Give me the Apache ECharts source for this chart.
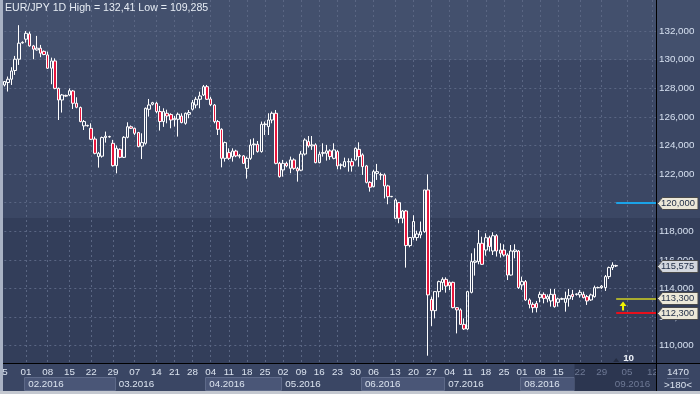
<!DOCTYPE html>
<html>
<head>
<meta charset="utf-8">
<script src="https://cdn.jsdelivr.net/npm/echarts@6.0.0/dist/echarts.min.js"></script>
<style>
html,body{margin:0;padding:0;overflow:hidden;background:#3b4764;}
#chart{width:700px;height:394px;}
</style>
</head>
<body>
<div id="chart"></div>
<script>
// ---- data (EUR/JPY daily bars) ----
const opens = [128.23,128.40,128.63,129.24,130.03,131.17,131.43,131.80,130.96,130.68,
130.80,130.58,130.33,129.40,129.91,127.99,127.18,127.50,127.53,127.81,
126.95,126.65,125.37,125.40,125.20,124.45,123.22,123.25,124.55,124.60,
124.15,122.59,123.73,123.17,124.57,125.31,125.20,124.90,123.95,124.15,
126.53,126.88,126.95,126.37,125.67,126.25,126.16,125.80,125.83,126.06,
125.55,126.18,126.53,126.83,127.23,127.53,128.11,127.25,126.83,125.67,
125.13,123.10,123.50,123.22,123.61,123.25,123.27,122.40,123.10,124.05,
124.08,123.57,125.46,125.32,125.78,126.25,122.75,122.29,122.75,122.40,
122.99,122.38,122.27,123.40,124.27,123.97,124.04,122.80,123.45,123.45,
123.62,123.10,123.57,122.62,122.52,122.85,122.87,122.99,123.73,123.34,
122.57,121.42,121.12,122.05,121.96,121.94,121.17,120.42,118.91,120.00,
118.91,119.42,117.00,117.56,117.56,117.74,117.97,120.89,113.24,112.45,
113.78,114.41,114.64,114.43,114.43,112.66,112.50,111.49,111.17,113.73,
115.83,115.88,117.16,116.69,117.55,116.62,117.69,116.69,116.69,116.34,
114.94,116.58,116.62,114.25,114.48,113.20,112.89,112.96,113.36,113.59,
113.27,113.13,113.59,113.03,113.25,113.03,113.27,113.59,113.58,113.55,
113.59,113.43,113.20,113.43,114.05,114.06,114.06,114.83,115.46,115.60];
const highs = [128.51,128.82,129.47,130.26,132.41,131.28,132.00,131.96,131.03,131.66,
131.03,130.64,130.56,130.14,130.09,128.05,127.60,127.55,127.99,127.88,
127.37,126.72,125.78,125.45,125.55,124.62,123.55,124.62,124.97,124.68,
124.39,124.00,123.80,124.65,125.62,125.40,125.25,124.95,124.85,126.65,
127.25,127.05,127.05,126.76,126.60,126.50,126.25,126.06,126.30,126.25,
126.30,126.48,127.18,127.40,127.76,128.23,128.23,127.40,126.90,125.78,
125.20,124.27,123.80,123.80,123.70,123.40,123.33,123.22,124.43,124.50,
124.31,125.67,125.67,126.25,126.37,126.48,122.85,122.99,122.87,123.22,
123.10,122.50,123.60,124.50,124.66,124.66,124.15,123.57,124.15,124.04,
123.73,124.15,123.69,122.75,123.15,123.10,123.10,123.87,124.22,123.45,
122.64,121.50,122.30,122.71,122.10,122.05,121.25,120.47,120.30,120.05,
119.49,119.49,117.56,119.12,118.04,118.68,120.89,121.98,113.43,113.78,
114.55,114.78,114.78,114.48,114.48,112.70,112.61,111.91,113.83,116.46,
116.81,118.09,117.62,117.86,117.69,117.93,117.80,117.16,117.09,116.46,
117.04,117.09,116.69,114.83,114.59,113.31,113.03,113.13,113.78,113.73,
113.59,113.97,113.97,113.36,113.36,113.78,113.97,113.90,113.66,113.90,
113.78,113.55,113.64,114.20,114.13,114.24,114.94,115.53,115.83,115.66];
const lows = [128.12,127.77,128.23,128.93,129.63,131.12,131.19,130.91,130.03,130.63,
130.17,130.31,129.35,128.28,127.93,125.78,126.30,127.40,127.46,126.55,
126.60,125.62,125.08,125.32,124.38,123.38,122.45,123.15,124.20,124.55,
122.52,122.05,123.10,123.12,124.50,125.15,124.73,123.87,123.05,124.05,
126.02,126.80,126.25,125.04,125.30,125.55,125.20,125.32,124.62,125.55,
125.45,125.90,126.44,126.60,126.60,127.46,127.18,126.76,125.55,124.73,
122.47,122.87,122.99,122.87,123.18,123.10,122.70,121.68,122.99,123.34,
123.50,123.50,124.73,124.73,125.55,122.68,121.75,121.82,122.47,122.06,
122.30,121.47,122.20,123.30,123.85,123.69,122.75,122.75,123.22,122.94,
123.00,123.03,122.33,122.33,122.47,122.17,122.17,122.94,122.52,121.94,
121.35,120.77,121.07,121.59,121.59,120.30,119.89,120.38,118.84,118.56,
118.56,115.46,116.88,117.39,117.34,117.51,117.90,109.30,111.38,111.91,
113.38,113.89,113.71,113.89,112.61,110.86,111.45,111.10,111.10,113.66,
114.90,115.69,115.64,116.30,116.58,116.34,116.23,116.16,116.23,114.59,
114.90,116.11,113.97,113.90,113.13,112.61,112.31,112.33,113.03,112.96,
113.03,112.73,112.66,112.73,113.20,112.38,112.73,113.20,113.50,113.36,
113.31,112.85,113.13,113.36,114.01,113.97,113.83,114.66,115.29,115.50];
const closes = [128.47,128.63,129.21,130.03,131.15,131.21,131.84,130.96,130.73,130.80,
130.45,130.36,129.40,129.91,127.99,127.18,127.53,127.45,127.83,126.95,
126.67,125.67,125.67,125.37,124.43,123.45,123.45,124.55,124.65,124.62,
122.59,123.80,123.17,124.57,125.31,125.20,124.85,123.92,124.20,126.60,
126.83,126.99,126.37,125.67,126.37,126.06,125.78,125.88,126.18,125.60,
126.25,126.30,126.99,127.23,127.46,128.11,127.23,126.85,125.67,125.13,
123.10,124.20,123.10,123.61,123.27,123.29,122.75,123.10,124.03,124.10,
123.57,125.48,125.50,125.78,126.25,122.75,121.82,122.75,122.57,122.99,
122.40,122.22,123.40,124.38,123.97,124.04,122.80,123.38,123.50,123.62,
123.22,123.69,122.57,122.64,122.87,122.88,122.57,123.80,123.22,122.52,
121.42,121.08,122.17,122.17,121.94,121.17,120.42,120.44,120.19,118.91,
119.42,117.00,117.56,118.68,117.81,117.97,120.89,113.55,112.45,113.78,
114.48,114.64,114.17,114.20,112.66,112.50,111.49,111.17,113.78,115.88,
115.92,117.16,115.69,117.55,116.93,117.69,116.62,116.46,116.34,114.94,
116.62,116.69,114.06,114.48,113.20,112.89,112.66,112.66,113.59,113.31,
113.43,113.59,112.73,113.27,113.29,113.31,113.50,113.43,113.62,113.73,
113.36,113.13,113.55,114.06,114.07,114.17,114.83,115.46,115.64,115.575];

// x axis: bar slots (data bars + calendar slots to the right edge)
const slotCount = 181;
const tickIndex = [0,6,12,18,24,30,36,42,47,52,57,62,67,72,77,82,87,92,97,102,108,113,118,123,128,133,138,143,148,153,159,165,172,179];
const tickText  = ['25','01','08','15','22','29','07','14','21','28','04','11','18','25','02','09','16','23','30','06','13','20','27','04','11','18','25','01','08','15','22','29','05','12'];
const gridIndex = [6,12,18,24,30,36,42,47,52,57,62,67,72,77,82,87,92,97,102,108,113,118,123,128,133,138,143,148,153,159,165,172,179];
const dimFromIndex = 158;

const monthText  = ['02.2016','03.2016','04.2016','05.2016','06.2016','07.2016','08.2016','09.2016'];
const monthStart = [6,31,56,77,99,122,143,168];
const monthEnd   = [30,55,76,98,121,142,157,180];
const monthBoxed = [true,false,true,false,true,false,true,false];

// y axis
const yTicks = [110,112,114,116,118,120,122,124,126,128,130,132];
const yMin = 108.79, yMax = 134.17;

// level lines / tags
const levelValue = [120, 113.3, 112.3];
const levelColor = ['#1ba3e8', '#d2d222', '#e8101c'];
const tagValue = [120, 115.575, 113.3, 112.3];
const tagFill = ['#ece8d8', '#d3d7de', '#ece8d8', '#ece8d8'];
const lastBarIndex = 169;

const titleText = 'EUR/JPY 1D High = 132,41 Low = 109,285';

// ---- chart ----
const REG = '"Liberation Sans", Arial, sans-serif';
const LBL_SIZE = 9.8;
const el = document.getElementById('chart');
const chart = echarts.init(el, null, {renderer: 'canvas', width: 700, height: 394});
const cats = Array.from({length: slotCount}, (_, i) => String(i));
const ohlc = opens.map((o, i) => [o, closes[i], lows[i], highs[i]]);
const tickMap = {};
tickIndex.forEach((k, j) => { tickMap[k] = tickText[j]; });
const gridSet = new Set(gridIndex);
const fmtY = v => v.toFixed(3).replace('.', ',');

const bg = new echarts.graphic.LinearGradient(0, 0, 0, 1, [
  {offset: 0, color: '#43506d'}, {offset: 60 / 394, color: '#43506d'},
  {offset: 60 / 394, color: '#3b4764'}, {offset: 218 / 394, color: '#3b4764'},
  {offset: 218 / 394, color: '#333e5a'}, {offset: 1, color: '#333e5a'}
]);

const lvlLines = levelValue.map((v, k) => [
  {coord: [String(lastBarIndex), v], lineStyle: {color: levelColor[k], width: k === 1 ? 1.5 : 2, type: 'solid'}},
  {coord: [String(slotCount - 1), v]}
]);

chart.setOption({
  animation: false,
  backgroundColor: bg,
  textStyle: {fontFamily: REG},
  grid: {left: 4.3, right: 44, top: 0, bottom: 31, containLabel: false, outerBoundsMode: 'none'},
  xAxis: {
    type: 'category', data: cats, boundaryGap: false,
    axisLine: {show: true, lineStyle: {color: '#000', width: 1}},
    axisTick: {show: false},
    axisLabel: {
      interval: (idx) => tickMap[idx] !== undefined,
      formatter: (val) => {
        const i = Number(val);
        const t = tickMap[i];
        if (t === undefined) return '';
        if (i === 0) return '{f|' + t + '}';
        return i >= dimFromIndex ? '{d|' + t + '}' : '{n|' + t + '}';
      },
      margin: 4, fontSize: LBL_SIZE, fontFamily: REG,
      rich: {
        n: {color: '#dbe3ef', fontSize: LBL_SIZE, fontFamily: REG},
        f: {color: '#dbe3ef', fontSize: LBL_SIZE, fontFamily: REG, padding: [0, 4, 0, 0]},
        d: {color: '#6e7995', fontSize: LBL_SIZE, fontFamily: REG}
      }
    },
    splitLine: {show: true, interval: (idx) => gridSet.has(idx), lineStyle: {color: '#5a6683', width: 1, type: [2, 3]}}
  },
  yAxis: {
    type: 'value', position: 'right', min: yMin, max: yMax, scale: true,
    axisLine: {show: true, lineStyle: {color: '#000', width: 1}},
    axisTick: {show: false, customValues: yTicks},
    axisLabel: {customValues: yTicks, formatter: fmtY, color: '#d6e0f0', fontSize: LBL_SIZE, fontFamily: REG, margin: 3},
    splitLine: {show: true, lineStyle: {color: '#5a6683', width: 1, type: [2, 3]}}
  },
  series: [{
    type: 'candlestick', data: ohlc, barWidth: 3, clip: false,
    itemStyle: {color: 'transparent', color0: '#e8163c', borderColor: '#ffffff', borderColor0: '#ffffff', borderWidth: 1},
    markLine: {silent: true, symbol: ['none', 'none'], label: {show: false}, animation: false, data: lvlLines}
  }]
});

// ---- decorations placed through the chart's own scales ----
const x0 = chart.convertToPixel({gridIndex: 0}, ['0', 120])[0];
const x1 = chart.convertToPixel({gridIndex: 0}, ['1', 120])[0];
const step = x1 - x0;
const xAt = i => x0 + i * step;
const yAt = v => chart.convertToPixel({gridIndex: 0}, ['0', v])[1];
const plotBottom = yAt(yMin);
const axisX = chart.convertToPixel({gridIndex: 0}, [String(slotCount - 1), 120])[0];
const LF = LBL_SIZE + 'px ' + REG;

const g = [];
// x axis band
g.push({type: 'rect', z: -6, shape: {x: 0, y: plotBottom, width: 700, height: 394 - plotBottom}, style: {fill: '#3a4664'}});
// month boxes
monthText.forEach((t, k) => {
  if (monthBoxed[k]) {
    const xa = xAt(monthStart[k]) - step / 2, xb = xAt(monthEnd[k]) + step / 2;
    g.push({type: 'rect', z: -5, shape: {x: Math.round(xa) + 0.5, y: 377.5, width: Math.round(xb - xa), height: 13}, style: {fill: '#4a5677', stroke: '#5e6a89', lineWidth: 1}});
  }
});
// dark zone
const dzX = xAt(dimFromIndex) - step / 2;
g.push({type: 'rect', z: -4, shape: {x: dzX, y: plotBottom + 1, width: axisX - dzX, height: 391 - plotBottom - 1}, style: {fill: '#2c3650'}});
monthText.forEach((t, k) => {
  g.push({type: 'text', z: -3, x: xAt(monthStart[k]) - step / 2 + 4, y: 384,
    style: {text: t, fill: monthStart[k] >= dimFromIndex ? '#6e7995' : '#dbe3ef', font: LF, verticalAlign: 'middle'}});
});
// frame lines
g.push({type: 'line', z: 12, shape: {x1: 0, y1: Math.round(plotBottom) + 0.5, x2: 700, y2: Math.round(plotBottom) + 0.5}, style: {stroke: '#000', lineWidth: 1}});
g.push({type: 'line', z: 12, shape: {x1: Math.round(axisX) + 0.5, y1: 0, x2: Math.round(axisX) + 0.5, y2: 394}, style: {stroke: '#000', lineWidth: 1}});
g.push({type: 'rect', z: 11, shape: {x: Math.round(axisX) + 1, y: Math.round(plotBottom) + 1, width: 700, height: 30}, style: {fill: '#3a4664'}});
g.push({type: 'rect', z: 20, shape: {x: 0, y: 0, width: 3, height: 394}, style: {fill: '#a9b2c4'}});
g.push({type: 'rect', z: 20, shape: {x: 0, y: 391, width: 700, height: 3}, style: {fill: '#c4c8d0'}});
// bottom right cell
g.push({type: 'text', z: 13, x: 678, y: 372, style: {text: '1470', fill: '#dbe3ef', font: LF, align: 'center', verticalAlign: 'middle'}});
g.push({type: 'line', z: 13, shape: {x1: 667, y1: 378.5, x2: 689, y2: 378.5}, style: {stroke: '#5e6a89', lineWidth: 1}});
g.push({type: 'text', z: 13, x: 678, y: 385, style: {text: '>180<', fill: '#dbe3ef', font: LF, align: 'center', verticalAlign: 'middle'}});
// title
g.push({type: 'text', z: 13, x: 5, y: 8, style: {text: titleText, fill: '#e6ecf4', font: '10.6px ' + REG, verticalAlign: 'middle'}});
// price tags
tagValue.forEach((v, k) => {
  const y = Math.round(yAt(v)) + 0.5;
  const xl = Math.round(axisX) + 1.5;
  g.push({type: 'polygon', z: 14, shape: {points: [[xl, y], [xl + 5, y - 6], [698, y - 6], [698, y + 6], [xl + 5, y + 6]]},
    style: {fill: tagFill[k], stroke: '#4a4a4a', lineWidth: 1}});
  g.push({type: 'text', z: 15, x: xl + 3.5, y: y, style: {text: fmtY(v), fill: '#1c2a44', font: '9.4px ' + REG, verticalAlign: 'middle'}});
});
// yellow arrow under the yellow level
const ay = yAt(levelValue[1]);
const ax = xAt(lastBarIndex + 1.9);
g.push({type: 'polygon', z: 14, shape: {points: [[ax, ay + 3], [ax + 3.5, ay + 7.5], [ax + 1, ay + 7.5], [ax + 1, ay + 12], [ax - 1, ay + 12], [ax - 1, ay + 7.5], [ax - 3.5, ay + 7.5]]}, style: {fill: '#f4f400'}});
// bar counter marker
const mx = xAt(lastBarIndex);
g.push({type: 'polygon', z: 14, shape: {points: [[mx - 3, plotBottom - 1], [mx + 3, plotBottom - 1], [mx, plotBottom - 5]]}, style: {fill: '#252d42'}});
g.push({type: 'text', z: 14, x: mx + 7, y: plotBottom - 5, style: {text: '10', fill: '#f0f4fa', font: 'bold ' + LF, verticalAlign: 'middle'}});

chart.setOption({graphic: {elements: g}});
</script>
</body>
</html>
